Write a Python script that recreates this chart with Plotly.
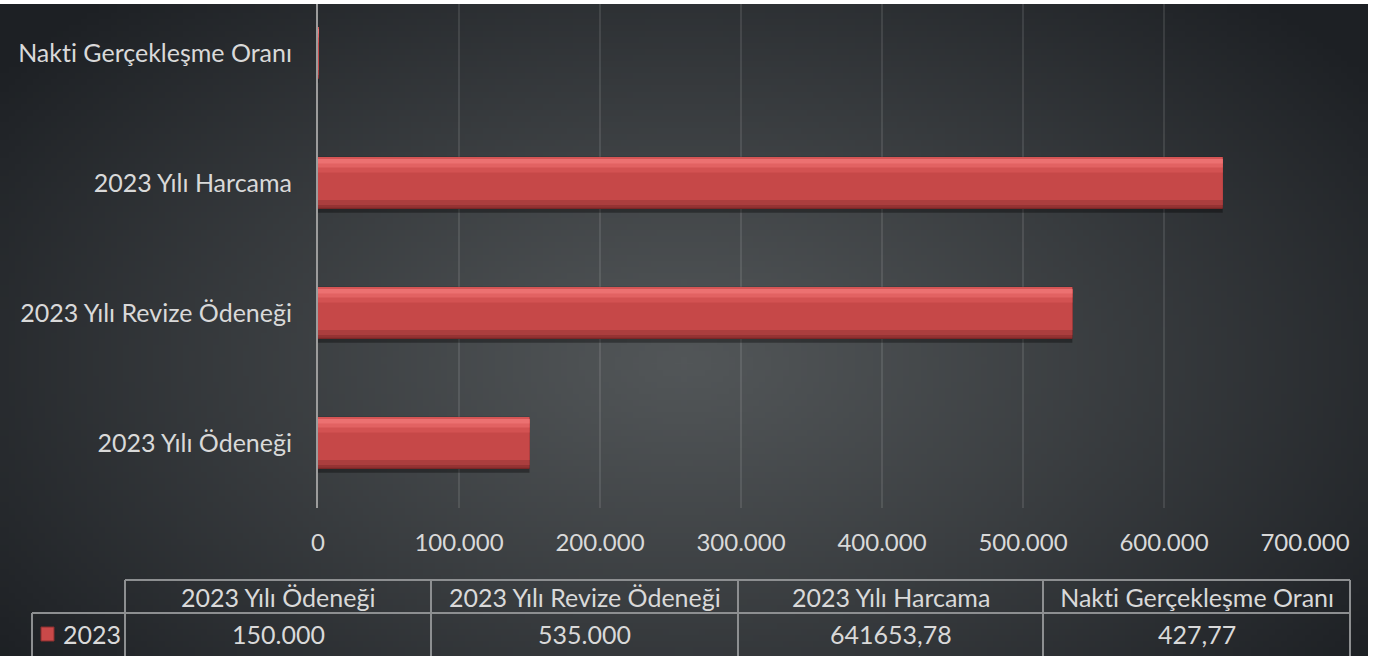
import zlib, struct, base64, math
import plotly.graph_objects as go

# ---------------- data ----------------
categories = ["2023 Yılı Ödeneği", "2023 Yılı Revize Ödeneği", "2023 Yılı Harcama", "Nakti Gerçekleşme Oranı"]
values_2023 = [150000, 535000, 641653.78, 427.77]
table_labels = ["150.000", "535.000", "641653,78", "427,77"]
series_name = "2023"
x_tickvals = [0, 100000, 200000, 300000, 400000, 500000, 600000, 700000]
x_ticktext = ["0", "100.000", "200.000", "300.000", "400.000", "500.000", "600.000", "700.000"]

# ---------------- geometry (pixels) ----------------
W, H = 1384, 656
L, R, T, B = 318, 79, 4, 148
PW, PH = W - L - R, H - T - B

def px2x(px):
    return (px - L) / PW

def py2y(py):
    return (H - B - py) / PH

FONT = "Lato"
TXT = "#d9d9d9"

# ---------------- background radial gradient png ----------------
def make_png(w, h):
    cx, cy = 0.50, 0.55
    rows = []
    c0 = (82, 86, 88)
    c1 = (29, 32, 36)
    for j in range(h):
        row = bytearray()
        for i in range(w):
            dx = (i / (w - 1) - cx) / 0.62
            dy = (j / (h - 1) - cy) / 0.78
            t = min(1.0, math.sqrt(dx * dx + dy * dy))
            t = t ** 1.1
            for k in range(3):
                row.append(int(round(c0[k] + (c1[k] - c0[k]) * t)))
        rows.append(row)
    raw = b"".join(b"\x00" + bytes(r) for r in rows)

    def chunk(tag, data):
        c = struct.pack(">I", len(data)) + tag + data
        return c + struct.pack(">I", zlib.crc32(tag + data) & 0xFFFFFFFF)

    return (b"\x89PNG\r\n\x1a\n"
            + chunk(b"IHDR", struct.pack(">IIBBBBB", w, h, 8, 2, 0, 0, 0))
            + chunk(b"IDAT", zlib.compress(raw, 9))
            + chunk(b"IEND", b""))

bg_src = "data:image/png;base64," + base64.b64encode(make_png(228, 108)).decode()

fig = go.Figure()

# ---------------- bars (layered for bevel look) ----------------
layers = [
    # (offset, width, color)
    (-0.228, 0.43, "rgba(0,0,0,0.35)"),
    (-0.2, 0.4, "#7a2626"),
    (-0.19, 0.385, "#953333"),
    (-0.17, 0.355, "#ab3e3e"),
    (-0.13, 0.31, "#c64848"),
    (0.08, 0.10, "#d35252"),
    (0.12, 0.065, "#e26262"),
    (0.15, 0.035, "#ec7171"),
    (0.185, 0.015, "#d65555"),
]
for off, wd, col in layers:
    fig.add_trace(go.Bar(
        x=values_2023, y=categories, orientation="h",
        offset=off, width=wd, marker=dict(color=col, line=dict(width=0)),
        showlegend=False, hoverinfo="skip",
        name=series_name,
    ))

# ---------------- layout ----------------
fig.update_layout(
    width=W, height=H,
    margin=dict(l=L, r=R, t=T, b=B, pad=0),
    paper_bgcolor="white",
    plot_bgcolor="rgba(0,0,0,0)",
    barmode="overlay",
    font=dict(family=FONT, color=TXT, size=25),
    showlegend=False,
    xaxis=dict(
        range=[0, 700000], tickvals=x_tickvals, ticktext=x_ticktext,
        showgrid=True, gridcolor="rgba(255,255,255,0.10)", gridwidth=1.5,
        zeroline=False, showline=False, ticks="",
        tickfont=dict(family=FONT, size=24, color=TXT),
        ticklabelstandoff=18,
    ),
    yaxis=dict(
        type="category", categoryorder="array", categoryarray=categories,
        range=[-0.5, -0.5 + PH / 130.0],
        showgrid=False, zeroline=False,
        showline=True, linecolor="#9c9c9c", linewidth=2, layer="above traces",
        ticks="", tickfont=dict(family=FONT, size=25, color=TXT),
        ticklabelstandoff=19,
    ),
)

fig.add_layout_image(dict(
    source=bg_src, xref="paper", yref="paper",
    x=px2x(0), y=py2y(4), sizex=1368 / PW, sizey=652 / PH,
    xanchor="left", yanchor="top", sizing="stretch", layer="below",
))

# ---------------- data table ----------------
col_edges = [125, 431, 738, 1043, 1350]
y_top, y_mid, y_bot = 580, 613, 660
LC = "#8d8f91"
shapes = []
def line(x0, y0, x1, y1):
    shapes.append(dict(type="line", xref="paper", yref="paper",
                       x0=px2x(x0), y0=py2y(y0), x1=px2x(x1), y1=py2y(y1),
                       line=dict(color=LC, width=2)))
line(col_edges[0], y_top, col_edges[-1], y_top)
line(32, y_mid, col_edges[-1], y_mid)
for xe in col_edges:
    line(xe, y_top, xe, y_bot)
line(32, y_mid, 32, y_bot)

# legend key
shapes.append(dict(type="rect", xref="paper", yref="paper",
                   x0=px2x(41), x1=px2x(54), y0=py2y(641), y1=py2y(627),
                   fillcolor="#c94949", line=dict(color="#8a2e2e", width=1)))
fig.update_layout(shapes=shapes)

for i, cat in enumerate(categories):
    cx = (col_edges[i] + col_edges[i + 1]) / 2
    fig.add_annotation(x=px2x(cx), y=py2y(597), xref="paper", yref="paper",
                       text=cat, showarrow=False, xanchor="center", yanchor="middle",
                       font=dict(family=FONT, size=25, color=TXT))
    fig.add_annotation(x=px2x(cx), y=py2y(634), xref="paper", yref="paper",
                       text=table_labels[i], showarrow=False, xanchor="center", yanchor="middle",
                       font=dict(family=FONT, size=25, color=TXT))
fig.add_annotation(x=px2x(61), y=py2y(634), xref="paper", yref="paper",
                   text=series_name, showarrow=False, xanchor="left", yanchor="middle",
                   font=dict(family=FONT, size=25, color=TXT))

fig.write_html(
    "out.html",
    config={"displayModeBar": False},
    post_script="document.body.style.margin='0';document.body.style.padding='0';"
                "document.body.style.fontVariantLigatures='none';"
                "document.querySelectorAll('text').forEach(function(t){t.style.fontVariantLigatures='none';});",
)
